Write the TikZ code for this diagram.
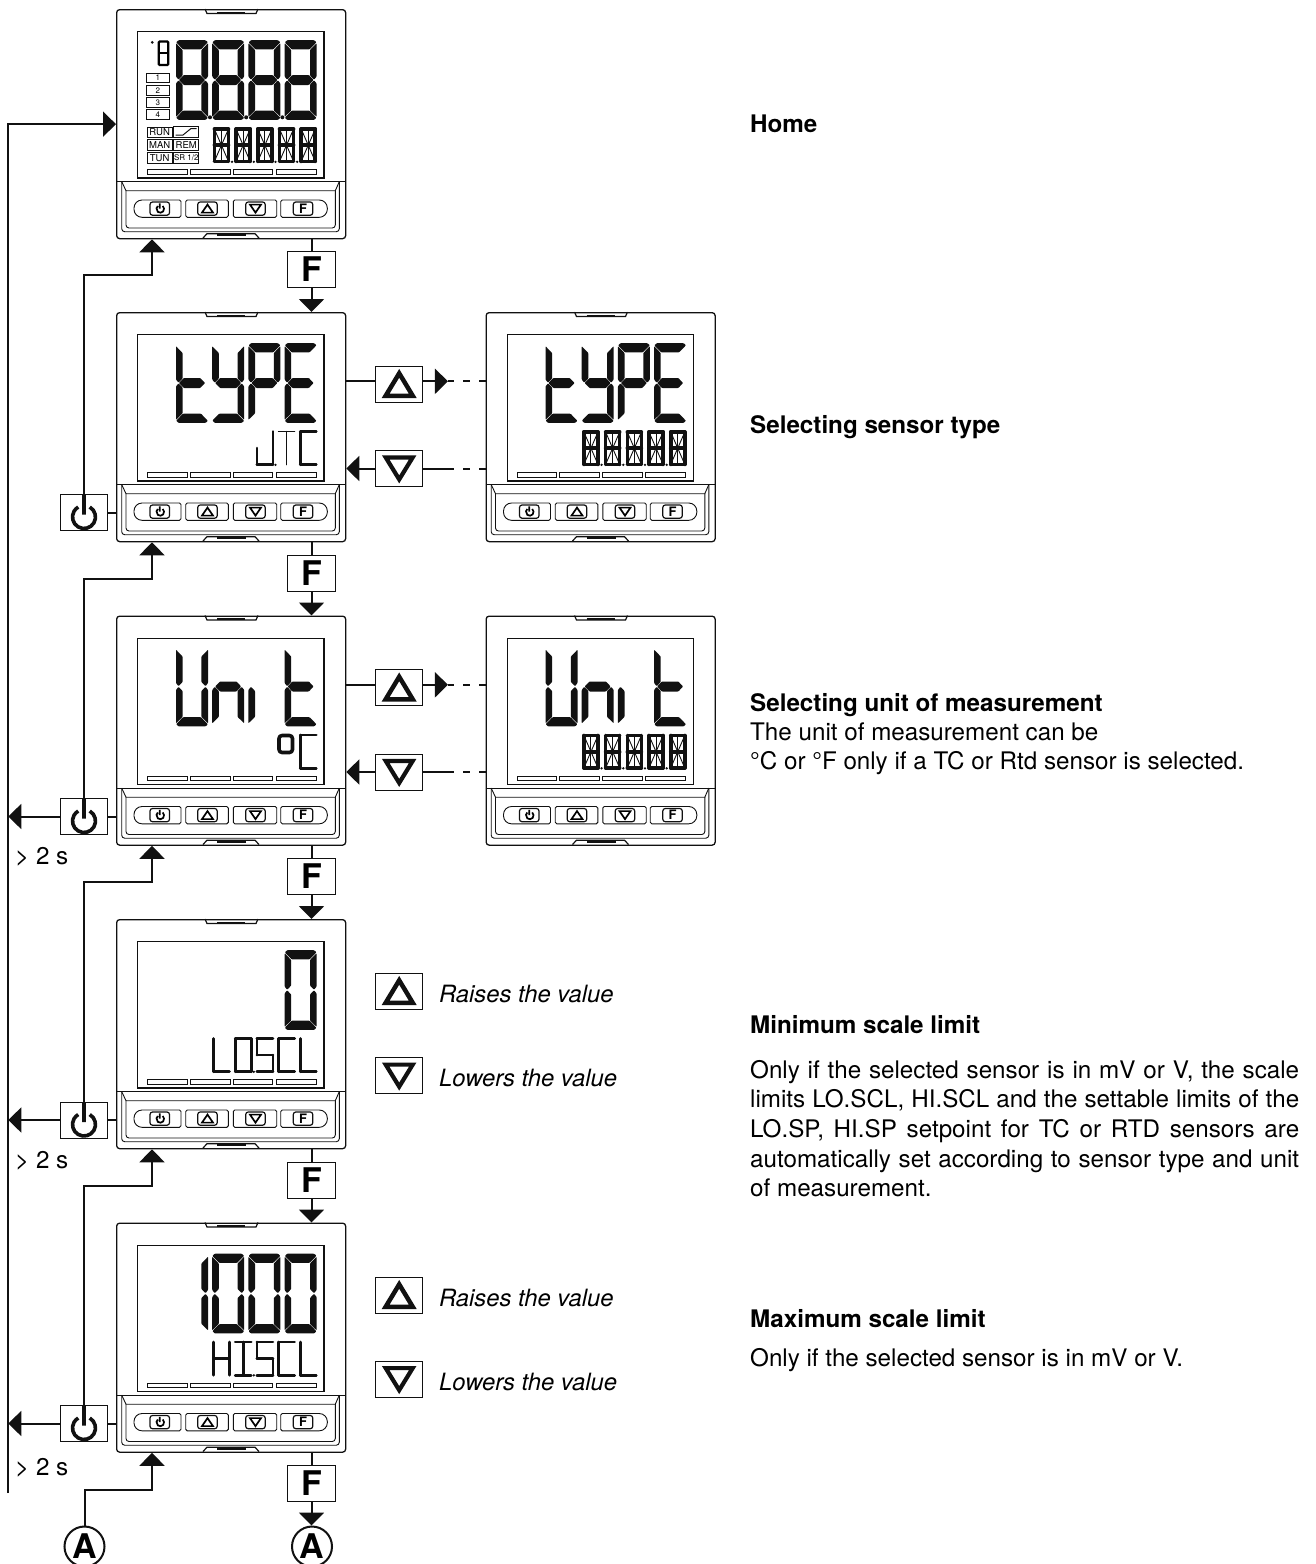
\documentclass[tikz,border=0pt]{standalone}
\usepackage{fontspec}
\setmainfont{TeX Gyre Heros}
\usetikzlibrary{arrows.meta,positioning,calc}
\definecolor{cInk}{HTML}{111111}
\tikzset{
  % big seven-segment digit, box 32 x 80
  bsa/.style={insert path={(2.5,-.2)--(29.5,-.2)--(31.9,-2.2)--(25,-9.3)--(7,-9.3)--(.2,-2.4)--cycle}},
  bsb/.style={insert path={(32,-3.2)--(32,-36.5)--(29.5,-39.7)--(25.4,-35.5)--(25.4,-10)--cycle}},
  bsc/.style={insert path={(25.4,-44.5)--(29.5,-40.3)--(32,-43.5)--(32,-76.8)--(25.4,-70.4)--cycle}},
  bsd/.style={insert path={(7,-70.7)--(25,-70.7)--(31.9,-77.8)--(29.5,-79.9)--(2.5,-79.9)--(.2,-77.6)--cycle}},
  bse/.style={insert path={(0,-43.5)--(2.5,-40.3)--(6.6,-44.5)--(6.6,-70.4)--(0,-76.8)--cycle}},
  bsf/.style={insert path={(0,-3.2)--(6.6,-10)--(6.6,-35.5)--(2.5,-39.7)--(0,-36.5)--cycle}},
  bsg/.style={insert path={(3,-40)--(7.8,-35)--(24.2,-35)--(29,-40)--(24.2,-45)--(7.8,-45)--cycle}},
  % small fourteen-segment digit, box 16 x 36
  ssa/.style={insert path={(0,0)--(16,0)}},
  ssb/.style={insert path={(16,0)--(16,-18)}},
  ssc/.style={insert path={(16,-18)--(16,-36)}},
  ssd/.style={insert path={(0,-36)--(16,-36)}},
  sse/.style={insert path={(0,-18)--(0,-36)}},
  ssf/.style={insert path={(0,0)--(0,-18)}},
  ssp/.style={insert path={(0,-18)--(8,-18)}},
  ssq/.style={insert path={(8,-18)--(16,-18)}},
  ssh/.style={insert path={(0,0)--(8,-18)}},
  ssi/.style={insert path={(8,0)--(8,-18)}},
  ssj/.style={insert path={(16,0)--(8,-18)}},
  ssk/.style={insert path={(0,-36)--(8,-18)}},
  ssl/.style={insert path={(8,-18)--(8,-36)}},
  ssm/.style={insert path={(16,-36)--(8,-18)}},
  lcdfill/.style={fill=cInk,rounded corners=.7pt},
  lcdthin/.style={draw=cInk,line width=2.8pt,line cap=round,line join=round},
  lcdfine/.style={draw=cInk,line width=1.5pt,line cap=round},
  lcdfull/.style={draw=cInk,line width=3.6pt,line cap=round,line join=round},
  lcdhair/.style={draw=cInk,line width=.9pt},
  frm/.style={draw=cInk,line width=.9pt},
  frmb/.style={draw=cInk,line width=1.2pt},
  % device and keys
  dev/.style={draw=cInk,line width=1.3pt,rounded corners=3pt,inner sep=0pt,
              minimum width=229pt,minimum height=229pt,fill=white},
  key/.style={draw=cInk,line width=1pt,fill=white,inner sep=0pt,
              minimum width=47.5pt,minimum height=36pt},
  fkey/.style={key,font=\fontsize{34}{34}\selectfont\bfseries},
  upkey/.style={key,path picture={\draw[line width=4.5pt,line join=miter,
      shift={(path picture bounding box.center)}] (-13.5,-11.75)--(13.5,-11.75)--(0,10.7)--cycle;}},
  dnkey/.style={key,path picture={\draw[line width=4.2pt,line join=miter,
      shift={(path picture bounding box.center)}] (-13.5,11.1)--(13.5,11.1)--(0,-10.9)--cycle;}},
  pwkey/.style={key,path picture={\draw[line width=3.6pt,
      shift={(path picture bounding box.center)}]
      (5.75,5.46) arc (60:-240:11.5) (0,18)--(0,-2);}},
  lett/.style={draw=cInk,circle,line width=2pt,minimum size=40pt,inner sep=0pt,
               fill=white,font=\fontsize{34}{34}\selectfont\bfseries},
  wire/.style={draw=cInk,line width=2pt},
  sig/.style={wire,-{Triangle[length=13pt,width=25pt]}},
  dsh/.style={wire,dash pattern=on 7pt off 9pt},
  lbl/.style={font=\fontsize{24.2}{29.6}\selectfont,anchor=base west,inner sep=0pt},
  ttl/.style={lbl,font=\fontsize{24.2}{29.6}\selectfont\bfseries},
  itl/.style={lbl,font=\fontsize{23.8}{29.6}\selectfont\itshape},
  lcdtag/.style={font=\fontsize{9.5}{9.5}\selectfont,inner sep=0pt},
}
\newcommand{\bigd}[2]{\begin{scope}[shift={({60+36.2*#1},-31)}]
  \foreach \s in {#2}{\fill[lcdfill,bs\s];}\end{scope}}
\newcommand{\smalld}[2]{\begin{scope}[shift={({97.5+21.7*#1},-119.5)},yscale=.92]
  \foreach \s in {#2}{\draw[lcdthin,ss\s];}\end{scope}}
\newcommand{\sdot}[1]{\fill[cInk] ({97.5+21.7*#1+18.6},-152.8) circle (1.3);}
\newcommand{\fulld}[1]{\begin{scope}[shift={({98.4+21.7*#1},-120)},xscale=.88,yscale=.9]
  \foreach \s in {a,b,c,d,e,f,p,q}{\draw[lcdfull,ss\s];}
  \foreach \s in {h,i,j,k,l,m}{\draw[lcdhair,ss\s];}\end{scope}}
% one whole instrument front, drawn over its node
\newcommand{\devbody}[3]{\begin{scope}[shift={(#1,-#2)}]
  \draw[frmb] (89,0)--(91,-4.5)--(140,-4.5)--(142,0);
  \draw[frm,line width=2pt] (101,-3.6)--(129,-3.6);
  \draw[frmb] (21.7,-22.7) rectangle (208,-169);
  \foreach \xa/\xb in {31.7/71.3,74.3/114,117.3/156.7,160/200}{
    \draw[frm] (\xa,-160.5) rectangle (\xb,-165);}
  \draw[frmb] (0,-172.6)--(229,-172.6);
  \draw[frm] (5.7,-172.6)--(5.7,-218)[rounded corners=3pt]--(5.7,-222.7)--(223.3,-222.7)--(223.3,-172.6);
  \draw[frm] (5.7,-172.6)--(10,-181.7)--(219.3,-181.7)--(223.3,-172.6);
  \draw[frm,rounded corners=3pt] (10,-181.7)--(10,-219)--(219.3,-219)--(219.3,-181.7);
  \draw[frm,rounded corners=8pt] (40,-191)--(18,-191)--(18,-208.3)--(40,-208.3)[rounded corners=1.5pt]--(65,-208.3)--(65,-191)--cycle;
  \draw[frm,rounded corners=1.5pt] (69.7,-191) rectangle (112.3,-208.3);
  \draw[frm,rounded corners=1.5pt] (117.3,-191) rectangle (160.7,-208.3);
  \draw[frm,rounded corners=8pt] (190,-208.3)--(211.3,-208.3)--(211.3,-191)--(190,-191)[rounded corners=1.5pt]--(164.7,-191)--(164.7,-208.3)--cycle;
  \foreach \xa in {34,81.7,129.7,177.3}{
    \draw[frmb,rounded corners=2.5pt] (\xa,-193) rectangle +(19.5,-13.2);}
  \draw[line width=1.7pt] (46.7,-197) arc (50:-230:3.8) (43.8,-194.4)--(43.8,-199.6);
  \draw[line width=1.7pt] (91.5,-195.6)--(86,-203.6)--(97,-203.6)--cycle;
  \draw[line width=1.7pt] (139.5,-203.6)--(134,-195.6)--(145,-195.6)--cycle;
  \node[inner sep=0pt,font=\fontsize{13}{13}\selectfont\bfseries] at (187,-199.6) {F};
  \draw[frmb] (87,-229)--(91,-224.7)--(139,-224.7)--(143,-229);
  \draw[frm,line width=2.4pt] (101,-226)--(130,-226);
  #3
  \end{scope}}

\begin{document}
\begin{tikzpicture}[x=1pt,y=1pt]
\useasboundingbox (0,0) rectangle (1316,-1564);

\def\dxa{116}
\def\dxb{485.5}

% ===== instruments, left column =========================================
\node[dev,anchor=north west] (d1) at (\dxa,-9)   {};
\node[dev,anchor=north west] (d2) at (\dxa,-312) {};
\node[dev,anchor=north west] (d3) at (\dxa,-615.5) {};
\node[dev,anchor=north west] (d4) at (\dxa,-919) {};
\node[dev,anchor=north west] (d5) at (\dxa,-1222.5) {};
% ===== instruments, right column ========================================
\node[dev,anchor=north west] (e2) at (\dxb,-312) {};
\node[dev,anchor=north west] (e3) at (\dxb,-615.5) {};

% ===== what each display shows ==========================================
\devbody{\dxa}{9}{
  \foreach \p in {0,1,2,3}{\bigd{\p}{a,b,c,d,e,f,g}}
  \foreach \p in {0,1,2}{\fill[cInk] ({94+36.2*\p},-108.3) circle (2);}
  \foreach \p in {0,1,2,3,4}{\fulld{\p}}
  \foreach \p in {0,1,2,3}{\sdot{\p}}
  \draw[line width=2.2pt,rounded corners=1pt] (42.7,-32.5) rectangle (52.2,-56);
  \draw[line width=2.2pt] (42.7,-44.2)--(52.2,-44.2);
  \fill[cInk] (36.3,-33.3) circle (1.5);
  \foreach \yy/\t in {63.7/1,76.3/2,88.3/3,100.3/4}{
    \node[frm,lcdtag,minimum width=23pt,minimum height=9.4pt,anchor=north west,
          font=\fontsize{8}{8}\selectfont] (st\t) at (30,-\yy) {\t};}
  \foreach \yy/\t/\n in {117.7/RUN/a,130.3/MAN/b,143.3/TUN/c}{
    \node[frm,lcdtag,minimum width=25pt,minimum height=10.4pt,anchor=north west] (ml\n) at (30.7,-\yy) {\t};}
  \node[frm,lcdtag,minimum width=25pt,minimum height=10.4pt,anchor=north west] (mlr) at (57.3,-130.3) {REM};
  \node[frm,lcdtag,minimum width=25pt,minimum height=10.4pt,anchor=north west,
        font=\fontsize{8}{8}\selectfont] (mls) at (57.3,-143.3) {SR 1/2};
  \draw[frm] (57.3,-117.7) rectangle (82.3,-128.1);
  \draw[frm,line width=1pt] (59.5,-126)--(67,-126)--(75,-119.5)--(80.5,-119.5);
}
\devbody{\dxa}{312}{
  \bigd{0}{f,e,d,g}\bigd{1}{f,b,g,c,d}\bigd{2}{a,b,f,g,e}\bigd{3}{a,f,g,e,d}
  \smalld{2}{b,c,d,e}\sdot{2}
  \begin{scope}[shift={(162.6,-119.5)},yscale=.92]
    \foreach \s in {a,i,l}{\draw[lcdfine,ss\s];}
  \end{scope}
  \smalld{4}{a,f,e,d}
}
\devbody{\dxb}{312}{
  \bigd{0}{f,e,d,g}\bigd{1}{f,b,g,c,d}\bigd{2}{a,b,f,g,e}\bigd{3}{a,f,g,e,d}
  \foreach \p in {0,1,2,3,4}{\fulld{\p}}
  \foreach \p in {0,1,2,3}{\sdot{\p}}
}
\devbody{\dxa}{615.5}{
  \bigd{0}{f,e,d,c,b}\bigd{1}{g,e,c}\bigd{2}{e}\bigd{3}{f,e,d,g}
  \draw[lcdfull,rounded corners=3pt] (163,-120) rectangle (176.5,-137);
  \smalld{4}{a,f,e,d}
}
\devbody{\dxb}{615.5}{
  \bigd{0}{f,e,d,c,b}\bigd{1}{g,e,c}\bigd{2}{e}\bigd{3}{f,e,d,g}
  \foreach \p in {0,1,2,3,4}{\fulld{\p}}
  \foreach \p in {0,1,2,3}{\sdot{\p}}
}
\devbody{\dxa}{919}{
  \bigd{3}{a,b,c,d,e,f}
  \smalld{0}{f,e,d}\smalld{1}{a,b,c,d,e,f}\sdot{1}\smalld{2}{a,f,p,q,c,d}
  \smalld{3}{a,f,e,d}\smalld{4}{f,e,d}
}
\devbody{\dxa}{1222.5}{
  \bigd{0}{b,c}\bigd{1}{a,b,c,d,e,f}\bigd{2}{a,b,c,d,e,f}\bigd{3}{a,b,c,d,e,f}
  \smalld{0}{f,e,b,c,p,q}\smalld{1}{a,d,i,l}\sdot{1}\smalld{2}{a,f,p,q,c,d}
  \smalld{3}{a,f,e,d}\smalld{4}{f,e,d}
}

% ===== F keys down the column ===========================================
\foreach \n/\y in {1/269.5,2/573,3/876.5,4/1180,5/1483.5}{
  \node[fkey] (fk\n) at (311.5,-\y) {F};
}
\node[lett] (ar) at (312,-1546.5) {A};
\node[lett] (al) at (84.5,-1546.5) {A};
\foreach \n/\m in {1/d2,2/d3,3/d4,4/d5,5/ar}{
  \draw[wire] (d\n.south -| fk\n) -- (fk\n.north);
  \draw[sig] (fk\n.south) -- (fk\n.south |- \m.north);
}

% ===== exit keys and the return bus =====================================
\foreach \n/\y in {2/512.5,3/816.5,4/1120,5/1423.5}{
  \node[pwkey] (pk\n) at (84,-\y) {};
  \draw[wire] (pk\n.east) -- (pk\n.east -| d\n.west);
}
\coordinate (busend) at (8.3,-1493);
\coordinate (el1) at (152,-275);
\coordinate (el2) at (152,-579);
\coordinate (el3) at (152,-882);
\coordinate (el4) at (152,-1186);
\coordinate (el5) at (152,-1489.5);
\foreach \n/\m in {2/1,3/2,4/3,5/4}{
  \draw[sig] (pk\n.north) |- (el\m) -- (el\m |- d\m.south);
}
\draw[sig] (al.north) |- (el5) -- (el5 |- d5.south);
\draw[sig] (busend) |- (d1.west);
\foreach \n in {3,4,5}{\draw[sig] (pk\n.west) -- (pk\n.west -| busend);}
\node[lbl] (ts3) at (15,-864)  {> 2 s};
\node[lbl] (ts4) at (15,-1168) {> 2 s};
\node[lbl] (ts5) at (15,-1475) {> 2 s};

% ===== browse keys between the two columns ==============================
\foreach \n/\a/\b in {2/384/468.5,3/687.5/772}{
  \node[upkey] (uk\n) at (399.2,-\a) {};
  \node[dnkey] (dk\n) at (399.2,-\b) {};
  \draw[wire] ([yshift=2.7pt]uk\n.west -| d\n.east) -- ([yshift=2.7pt]uk\n.west);
  \draw[sig] ([yshift=2.7pt]uk\n.east) -- ++(24.5,0) coordinate (ut\n);
  \draw[dsh] (ut\n -| e\n.west) -- (ut\n);
  \draw[sig] (dk\n.west) -- (dk\n.west -| d\n.east);
  \draw[wire] (dk\n.east) -- ++(25,0) coordinate (dt\n);
  \draw[dsh] (dt\n -| e\n.west) -- (dt\n);
}

% ===== value keys with their notes ======================================
\foreach \n/\a/\b/\c/\d in {4/991/1075.7/1002/1086,5/1295/1379.2/1306/1390}{
  \node[upkey] (uk\n) at (399.2,-\a) {};
  \node[dnkey] (dk\n) at (399.2,-\b) {};
  \node[itl] (un\n) at (439,-\c) {Raises the value};
  \node[itl] (dn\n) at (439,-\d) {Lowers the value};
}

% ===== notes on the right ===============================================
\node[ttl] (thome) at (750,-132) {Home};
\node[ttl] (tsens) at (750,-433) {Selecting sensor type};
\node[ttl] (tunit) at (750,-711) {Selecting unit of measurement};
\node[lbl] (nunit) at (750,-740) {The unit of measurement can be};
\node[lbl] (nuni2) at (750,-769) {°C or °F only if a TC or Rtd sensor is selected.};
\node[ttl] (tmin) at (750,-1033) {Minimum scale limit};
\node[lbl,anchor=north west,text width=549pt,align=justify] (nmin) at (750,-1060)
  {Only if the selected sensor is in mV or V, the scale limits LO.SCL, HI.SCL and the settable limits of the LO.SP, HI.SP setpoint for TC or RTD sensors are automatically set according to sensor type and unit of measurement.};
\node[ttl] (tmax) at (750,-1327) {Maximum scale limit};
\node[lbl] (nmax) at (750,-1366) {Only if the selected sensor is in mV or V.};
\end{tikzpicture}
\end{document}
